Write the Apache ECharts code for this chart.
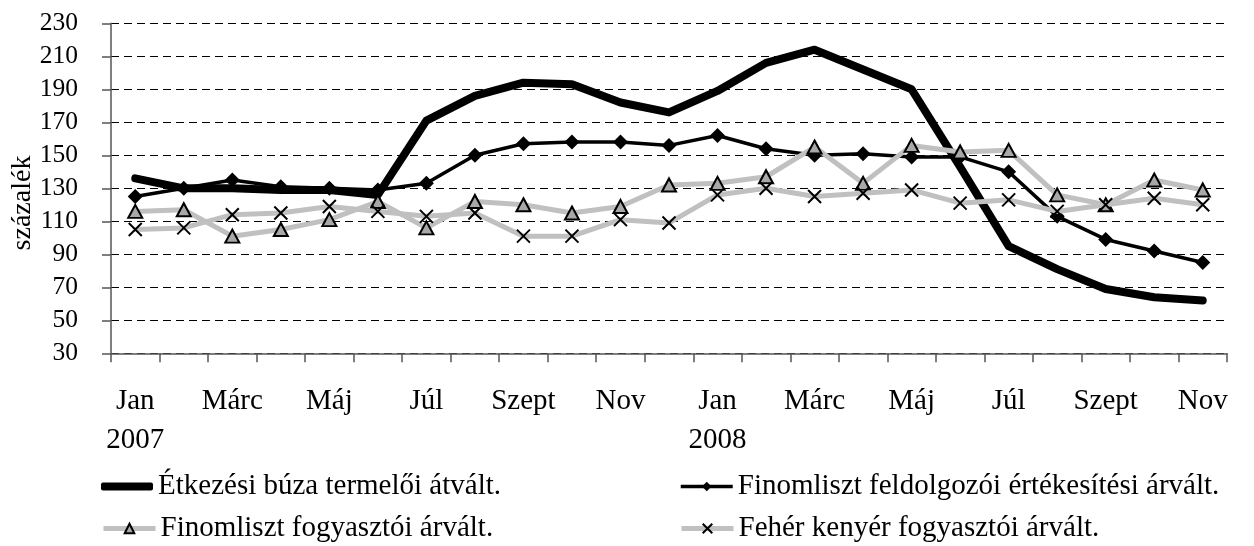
<!DOCTYPE html>
<html>
<head>
<meta charset="utf-8">
<script src="https://cdn.jsdelivr.net/npm/echarts@6/dist/echarts.min.js"></script>
<style>
html,body{margin:0;padding:0;background:#fff;}
#chart{width:1254px;height:546px;}
</style>
</head>
<body>
<div id="chart"></div>
<script>
const categories = ['Jan\n2007','Febr','Márc','Ápr','Máj','Jún','Júl','Aug','Szept','Okt','Nov','Dec',
                    'Jan\n2008','Febr','Márc','Ápr','Máj','Jún','Júl','Aug','Szept','Okt','Nov'];
const seriesNames = ['Étkezési búza termelői átvált.','Finomliszt feldolgozói értékesítési árvált.',
                     'Finomliszt fogyasztói árvált.','Fehér kenyér fogyasztói árvált.'];
const buza      = [136,130,130,129,129,126,171,186,194,193,182,176,189,206,214,202,190,143,95,81,69,64,62];
const lisztFeld = [125,130,135,131,130,129,133,150,157,158,158,156,162,154,150,151,149,149,140,113,99,92,85];
const lisztFogy = [116,117,101,105,111,122,106,122,120,115,119,132,133,137,155,133,156,152,153,126,120,135,129];
const kenyer    = [105,106,114,115,119,116,113,115,101,101,111,109,126,130,125,127,129,121,123,116,120,124,120];
const yTicks = {min:30, max:230, step:20};
const yTitle = 'százalék';

const FONT = 'Liberation Serif';
const chart = echarts.init(document.getElementById('chart'), null, {renderer:'canvas'});
const xSym = 'path://M0,0L10,10M10,0L0,10';

function legendAt(item, left, top, h, lw){
  return {data:[item], left:left, top:top, itemWidth:52, itemHeight:h, itemGap:0, padding:0,
          lineStyle:{width:lw},
          textStyle:{fontFamily:FONT, fontSize:29, color:'#000'}, selectedMode:false};
}

chart.setOption({
  animation:false,
  backgroundColor:'#fff',
  grid:{left:111, right:27, top:23.3, bottom:192.7, containLabel:false},
  legend:[
    legendAt({name:seriesNames[0], icon:'roundRect', itemStyle:{color:'#000'}}, 101, 472, 8, 8),
    legendAt({name:seriesNames[1]}, 679, 472, 12, 3.5),
    legendAt({name:seriesNames[2]}, 101, 514, 12, 5),
    legendAt({name:seriesNames[3]}, 679, 514, 12, 5)
  ],
  graphic:[{
    type:'text', x:23, y:203, rotation:Math.PI/2,
    style:{text:yTitle, font:'28px "Liberation Serif"', fill:'#000', textAlign:'center', textVerticalAlign:'middle'}
  }],
  xAxis:{
    type:'category', data:categories, boundaryGap:true,
    axisLine:{lineStyle:{color:'#555', width:1.5}},
    axisTick:{show:true, interval:0, length:9, lineStyle:{color:'#555', width:1.5}},
    axisLabel:{interval:1, fontFamily:FONT, fontSize:29, color:'#000', lineHeight:39, margin:29}
  },
  yAxis:{
    type:'value', min:yTicks.min, max:yTicks.max, interval:yTicks.step,
    axisLine:{show:true, lineStyle:{color:'#555', width:1.5}},
    axisTick:{show:true, length:9, lineStyle:{color:'#555', width:1.5}},
    axisLabel:{fontFamily:FONT, fontSize:25.5, color:'#000', margin:33},
    splitLine:{show:true, lineStyle:{color:'#000', type:[8,5], width:1}}
  },
  series:[
    {name:seriesNames[0], type:'line', data:buza, symbol:'none', showSymbol:false,
     lineStyle:{color:'#000', width:8, cap:'round', join:'round'}, itemStyle:{color:'#000'}, z:2},
    {name:seriesNames[1], type:'line', data:lisztFeld, symbol:'diamond', symbolSize:[15,15],
     lineStyle:{color:'#000', width:3.5}, itemStyle:{color:'#000'}, z:3},
    {name:seriesNames[2], type:'line', data:lisztFogy, symbol:'triangle', symbolSize:[14,13],
     lineStyle:{color:'#c0c0c0', width:5}, itemStyle:{color:'#a8a8a8', borderColor:'#000', borderWidth:2}, z:4},
    {name:seriesNames[3], type:'line', data:kenyer, symbol:xSym, symbolSize:13,
     lineStyle:{color:'#c0c0c0', width:5}, itemStyle:{color:'none', borderColor:'#000', borderWidth:2}, z:5}
  ]
});
</script>
</body>
</html>
